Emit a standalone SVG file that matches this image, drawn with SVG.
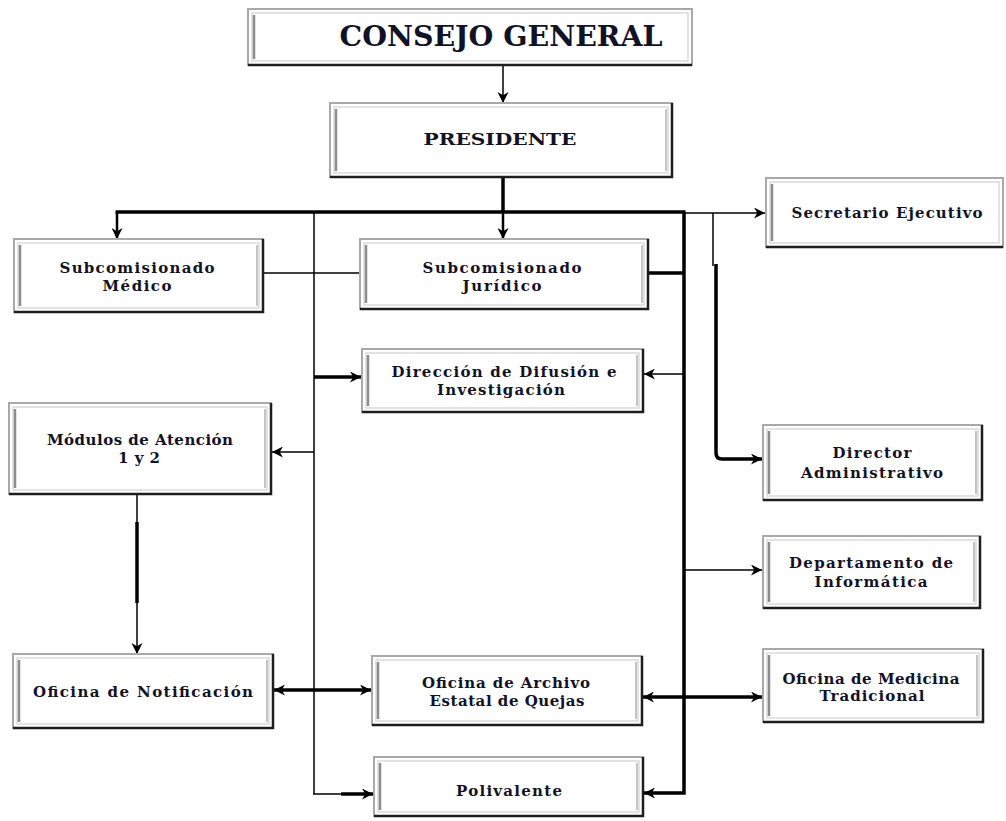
<svg xmlns="http://www.w3.org/2000/svg" width="1006" height="821" viewBox="0 0 1006 821">
<style>
.fr{fill:#fff;stroke:#a9a9a9;stroke-width:2}
.in{fill:none;stroke:#dadada;stroke-width:1.5}
.lf{stroke:#8c8c8c;stroke-width:2.5}
.rt{stroke:#c4c4c4;stroke-width:2}
.sh{fill:none;stroke:#1e1e1e;stroke-width:2.5}
.t{font-family:"DejaVu Serif","Liberation Serif",serif;font-weight:bold;font-size:15px;fill:#121226;text-anchor:middle}
.thin{fill:none;stroke:#000;stroke-width:1.5}
.mid{fill:none;stroke:#000;stroke-width:2.5}
.thick{fill:none;stroke:#000;stroke-width:3.5}
</style>
<defs>
<marker id="ah" viewBox="0 0 10 10" refX="10" refY="5" markerWidth="11" markerHeight="11" markerUnits="userSpaceOnUse" orient="auto-start-reverse">
<path d="M0,0 L10,5 L0,10 L3,5 z" fill="#000"/>
</marker>
</defs>

<g id="connectors">
<line class="thin" x1="503" y1="65" x2="503" y2="103" marker-end="url(#ah)"/>
<line class="thick" x1="503" y1="177" x2="503" y2="212"/>
<line class="thick" x1="115.5" y1="212" x2="685.5" y2="212"/>
<line class="mid" x1="117" y1="212" x2="117" y2="239" marker-end="url(#ah)"/>
<line class="mid" x1="503" y1="212" x2="503" y2="239" marker-end="url(#ah)"/>
<line class="thin" x1="684" y1="213" x2="765" y2="213" marker-end="url(#ah)"/>
<line class="thin" x1="314" y1="212" x2="314" y2="794"/>
<line class="thin" x1="263" y1="273" x2="360" y2="273"/>
<line class="thick" x1="648" y1="273" x2="684" y2="273"/>
<polyline class="thick" points="684,212 684,793 644,793" marker-end="url(#ah)"/>
<line class="thin" x1="713" y1="213" x2="713" y2="266"/>
<path class="thick" d="M716,264 L716,453 Q716,459 722,459 L762,459" marker-end="url(#ah)"/>
<line class="thick" x1="314" y1="377" x2="361" y2="377" marker-end="url(#ah)"/>
<line class="thin" x1="684" y1="374" x2="644" y2="374" marker-end="url(#ah)"/>
<line class="thin" x1="314" y1="452" x2="272" y2="452" marker-end="url(#ah)"/>
<line class="thin" x1="137" y1="494" x2="137" y2="654" marker-end="url(#ah)"/>
<line class="thick" x1="137" y1="522" x2="137" y2="603"/>
<line class="thin" x1="684" y1="570" x2="762" y2="570" marker-end="url(#ah)"/>
<line class="thick" x1="274" y1="690" x2="371" y2="690" marker-start="url(#ah)" marker-end="url(#ah)"/>
<line class="thick" x1="643" y1="697" x2="762" y2="697" marker-start="url(#ah)" marker-end="url(#ah)"/>
<line class="thin" x1="313" y1="794" x2="343" y2="794"/>
<line class="thick" x1="341" y1="794" x2="373" y2="794" marker-end="url(#ah)"/>
</g>

<g id="consejo">
<rect class="fr" x="248" y="9" width="444" height="56"/>
<rect class="in" x="252" y="13" width="436" height="48"/>
<line class="lf" x1="254" y1="15" x2="254" y2="59"/>
<polyline class="sh" points="248,65 692,65"/>
<text class="t" x="501" y="46" style="font-size:28px" textLength="323" lengthAdjust="spacingAndGlyphs">CONSEJO GENERAL</text>
</g>

<g id="presidente">
<rect class="fr" x="330" y="103" width="342" height="74"/>
<rect class="in" x="334" y="107" width="334" height="66"/>
<line class="lf" x1="336" y1="109" x2="336" y2="171"/>
<line class="rt" x1="666" y1="109" x2="666" y2="171"/>
<polyline class="sh" points="330,177 672,177 672,103"/>
<text class="t" x="500" y="145" style="font-size:17px" textLength="153" lengthAdjust="spacingAndGlyphs">PRESIDENTE</text>
</g>

<g id="secretario">
<rect class="fr" x="766" y="178" width="237" height="69"/>
<rect class="in" x="770" y="182" width="229" height="61"/>
<line class="lf" x1="772" y1="184" x2="772" y2="241"/>
<polyline class="sh" points="766,247 1003,247"/>
<text class="t" x="887" y="218" textLength="191">Secretario Ejecutivo</text>
</g>

<g id="medico">
<rect class="fr" x="14" y="239" width="249" height="73"/>
<rect class="in" x="18" y="243" width="241" height="65"/>
<line class="lf" x1="20" y1="245" x2="20" y2="306"/>
<line class="rt" x1="257" y1="245" x2="257" y2="306"/>
<polyline class="sh" points="14,312 263,312 263,239"/>
<text class="t" x="137" y="273" textLength="155">Subcomisionado</text>
<text class="t" x="137" y="291" textLength="69">Médico</text>
</g>

<g id="juridico">
<rect class="fr" x="360" y="239" width="288" height="70"/>
<rect class="in" x="364" y="243" width="280" height="62"/>
<line class="lf" x1="366" y1="245" x2="366" y2="303"/>
<line class="rt" x1="642" y1="245" x2="642" y2="303"/>
<polyline class="sh" points="360,309 648,309 648,239"/>
<text class="t" x="502" y="273" textLength="159">Subcomisionado</text>
<text class="t" x="502" y="291" textLength="79">Jurídico</text>
</g>

<g id="direccion">
<rect class="fr" x="362" y="349" width="281" height="63"/>
<rect class="in" x="366" y="353" width="273" height="55"/>
<line class="lf" x1="368" y1="355" x2="368" y2="406"/>
<line class="rt" x1="637" y1="355" x2="637" y2="406"/>
<polyline class="sh" points="362,412 643,412 643,349"/>
<text class="t" x="504" y="377" textLength="225">Dirección de Difusión e</text>
<text class="t" x="501" y="395" textLength="128">Investigación</text>
</g>

<g id="modulos">
<rect class="fr" x="9" y="403" width="262" height="91"/>
<rect class="in" x="13" y="407" width="254" height="83"/>
<line class="lf" x1="15" y1="409" x2="15" y2="488"/>
<line class="rt" x1="265" y1="409" x2="265" y2="488"/>
<polyline class="sh" points="9,494 271,494 271,403"/>
<text class="t" x="140" y="445" textLength="186">Módulos de Atención</text>
<text class="t" x="139" y="463" textLength="42">1 y 2</text>
</g>

<g id="director">
<rect class="fr" x="763" y="425" width="219" height="75"/>
<rect class="in" x="767" y="429" width="211" height="67"/>
<line class="lf" x1="769" y1="431" x2="769" y2="494"/>
<line class="rt" x1="976" y1="431" x2="976" y2="494"/>
<polyline class="sh" points="763,500 982,500 982,425"/>
<text class="t" x="872" y="458" textLength="79">Director</text>
<text class="t" x="872" y="478" textLength="142">Administrativo</text>
</g>

<g id="informatica">
<rect class="fr" x="763" y="536" width="217" height="72"/>
<rect class="in" x="767" y="540" width="209" height="64"/>
<line class="lf" x1="769" y1="542" x2="769" y2="602"/>
<line class="rt" x1="974" y1="542" x2="974" y2="602"/>
<polyline class="sh" points="763,608 980,608 980,536"/>
<text class="t" x="871" y="568" textLength="164">Departamento de</text>
<text class="t" x="871" y="587" textLength="113">Informática</text>
</g>

<g id="notificacion">
<rect class="fr" x="13" y="654" width="260" height="74"/>
<rect class="in" x="17" y="658" width="252" height="66"/>
<line class="lf" x1="19" y1="660" x2="19" y2="722"/>
<line class="rt" x1="267" y1="660" x2="267" y2="722"/>
<polyline class="sh" points="13,728 273,728 273,654"/>
<text class="t" x="143" y="697" textLength="220">Oficina de Notificación</text>
</g>

<g id="archivo">
<rect class="fr" x="372" y="656" width="270" height="69"/>
<rect class="in" x="376" y="660" width="262" height="61"/>
<line class="lf" x1="378" y1="662" x2="378" y2="719"/>
<line class="rt" x1="636" y1="662" x2="636" y2="719"/>
<polyline class="sh" points="372,725 642,725 642,656"/>
<text class="t" x="506" y="688" textLength="168">Oficina de Archivo</text>
<text class="t" x="507" y="706" textLength="155">Estatal de Quejas</text>
</g>

<g id="medicina">
<rect class="fr" x="763" y="649" width="220" height="73"/>
<rect class="in" x="767" y="653" width="212" height="65"/>
<line class="lf" x1="769" y1="655" x2="769" y2="716"/>
<line class="rt" x1="977" y1="655" x2="977" y2="716"/>
<polyline class="sh" points="763,722 983,722 983,649"/>
<text class="t" x="871" y="684" textLength="177">Oficina de Medicina</text>
<text class="t" x="872" y="701" textLength="105">Tradicional</text>
</g>

<g id="polivalente">
<rect class="fr" x="374" y="757" width="269" height="59"/>
<rect class="in" x="378" y="761" width="261" height="51"/>
<line class="lf" x1="380" y1="763" x2="380" y2="810"/>
<line class="rt" x1="637" y1="763" x2="637" y2="810"/>
<polyline class="sh" points="374,816 643,816 643,757"/>
<text class="t" x="509" y="796" textLength="106">Polivalente</text>
</g>
</svg>
